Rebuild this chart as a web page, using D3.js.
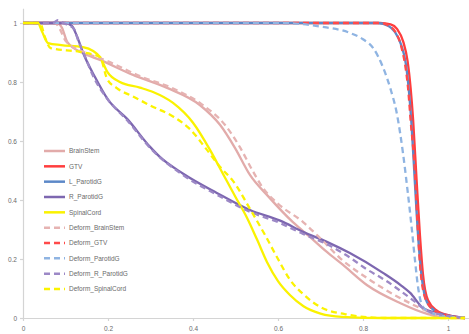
<!DOCTYPE html>
<html><head><meta charset="utf-8">
<script src="https://cdn.jsdelivr.net/npm/d3@7"></script>
<style>body{margin:0;background:#fff}svg{display:block}</style>
</head><body>
<svg id="c" width="469" height="334"></svg>
<script>
const seriesNames = ["BrainStem","GTV","L_ParotidG","R_ParotidG","SpinalCord","Deform_BrainStem","Deform_GTV","Deform_ParotidG","Deform_R_ParotidG","Deform_SpinalCord"];
const seriesColors = ["#e2abaa","#ff3d3d","#5c88c8","#7d67b0","#faf200","#e6b3b2","#ff4a4a","#8fb4e2","#9c88c6","#fbf300"];
const seriesDashed = [false,false,false,false,false,true,true,true,true,true];
const xTicks = [0,0.2,0.4,0.6,0.8,1];
const yTicks = [0,0.2,0.4,0.6,0.8,1];
const xTickLabels = ["0","0.2","0.4","0.6","0.8","1"];
const yTickLabels = ["0","0.2","0.4","0.6","0.8","1"];

// [dose, volume] points per series
const brainStem = [[0,1],[0.08,1],[0.092,0.983],[0.104,0.936],[0.141,0.898],[0.181,0.875],[0.259,0.824],[0.339,0.78],[0.416,0.722],[0.464,0.654],[0.499,0.576],[0.534,0.485],[0.576,0.414],[0.635,0.325],[0.675,0.275],[0.715,0.224],[0.753,0.18],[0.809,0.112],[0.887,0.051],[0.951,0.014],[0.993,0.001],[1.04,0]];
const gtv = [[0,1],[0.84,1],[0.865,0.995],[0.88,0.98],[0.895,0.935],[0.905,0.87],[0.912,0.78],[0.918,0.67],[0.926,0.47],[0.934,0.28],[0.941,0.15],[0.953,0.06],[0.974,0.025],[1.005,0.008],[1.04,0]];
const lParotidG = [[0,1],[0.835,1],[0.86,0.99],[0.875,0.97],[0.89,0.925],[0.901,0.86],[0.908,0.77],[0.914,0.66],[0.922,0.46],[0.93,0.27],[0.938,0.14],[0.95,0.055],[0.972,0.022],[1.005,0.006],[1.04,0]];
const rParotidG = [[0,1],[0.1,1],[0.115,0.99],[0.127,0.955],[0.141,0.9],[0.17,0.815],[0.2,0.74],[0.245,0.675],[0.299,0.58],[0.322,0.546],[0.376,0.49],[0.456,0.424],[0.534,0.366],[0.605,0.33],[0.659,0.292],[0.715,0.258],[0.769,0.22],[0.847,0.153],[0.89,0.11],[0.911,0.085],[0.941,0.034],[0.981,0.015],[1.04,0]];
const spinalCord = [[0,1],[0.035,1],[0.045,0.97],[0.059,0.932],[0.09,0.925],[0.141,0.918],[0.165,0.905],[0.181,0.885],[0.198,0.835],[0.228,0.8],[0.275,0.781],[0.306,0.766],[0.353,0.729],[0.4,0.662],[0.44,0.57],[0.47,0.49],[0.5,0.41],[0.527,0.34],[0.551,0.265],[0.574,0.19],[0.6,0.125],[0.628,0.078],[0.66,0.04],[0.7,0.015],[0.75,0.004],[0.85,0],[1.04,0]];
const deformBrainStem = [[0,1],[0.075,1],[0.088,0.976],[0.1,0.94],[0.146,0.9],[0.2,0.87],[0.275,0.82],[0.35,0.78],[0.42,0.725],[0.475,0.655],[0.51,0.58],[0.54,0.5],[0.565,0.44],[0.598,0.39],[0.659,0.325],[0.699,0.271],[0.746,0.203],[0.809,0.136],[0.887,0.068],[0.958,0.02],[1.0,0.003],[1.04,0]];
const deformGtv = [[0,1],[0.84,1],[0.862,0.99],[0.876,0.97],[0.89,0.92],[0.9,0.85],[0.906,0.78],[0.912,0.671],[0.922,0.5],[0.929,0.3],[0.936,0.15],[0.95,0.055],[0.975,0.02],[1.01,0.005],[1.04,0]];
const deformParotidG = [[0,1],[0.6,1],[0.65,0.997],[0.7,0.988],[0.77,0.966],[0.8,0.945],[0.824,0.915],[0.847,0.85],[0.864,0.78],[0.88,0.69],[0.894,0.56],[0.905,0.43],[0.915,0.3],[0.922,0.2],[0.93,0.1],[0.941,0.037],[0.965,0.015],[1.0,0.005],[1.04,0]];
const deformRParotidG = [[0,1],[0.07,1],[0.082,1.01],[0.095,1],[0.12,0.98],[0.13,0.94],[0.145,0.89],[0.165,0.82],[0.2,0.74],[0.245,0.67],[0.3,0.575],[0.376,0.485],[0.456,0.418],[0.534,0.36],[0.605,0.322],[0.659,0.285],[0.715,0.25],[0.769,0.205],[0.809,0.165],[0.85,0.13],[0.918,0.06],[0.95,0.025],[0.99,0.01],[1.04,0]];
const deformSpinalCord = [[0,1],[0.04,1],[0.052,0.95],[0.065,0.915],[0.134,0.902],[0.181,0.885],[0.198,0.81],[0.22,0.78],[0.26,0.75],[0.3,0.72],[0.353,0.683],[0.393,0.64],[0.43,0.575],[0.465,0.51],[0.494,0.465],[0.534,0.37],[0.57,0.28],[0.6,0.2],[0.628,0.13],[0.66,0.08],[0.7,0.037],[0.77,0.01],[0.85,0],[1.04,0]];

const seriesData = [brainStem,gtv,lParotidG,rParotidG,spinalCord,deformBrainStem,deformGtv,deformParotidG,deformRParotidG,deformSpinalCord];

const svg = d3.select("#c");
const x = d3.scaleLinear().domain([0,1.05]).range([23,469.25]);
const y = d3.scaleLinear().domain([0,1.05]).range([318,8.25]);
const axisColor = "#d4d4d4", textColor = "#6a6a6a";

const gx = svg.append("g").attr("transform","translate(0,318)")
  .call(d3.axisBottom(x).tickValues(xTicks).tickFormat((d,i)=>xTickLabels[i]).tickSize(3).tickSizeOuter(0));
const gy = svg.append("g").attr("transform","translate(23,0)")
  .call(d3.axisLeft(y).tickValues(yTicks).tickFormat((d,i)=>yTickLabels[i]).tickSize(3).tickSizeOuter(0));
[gx,gy].forEach(g=>{
  g.selectAll(".domain,line").attr("stroke",axisColor).attr("stroke-width",1.2);
  g.selectAll("text").attr("fill",textColor).style("font-family","Liberation Sans, Arial, sans-serif").style("font-size","6.5px");
});
gx.selectAll("text").attr("dy","1.1em");

const line = d3.line().x(d=>x(d[0])).y(d=>y(d[1])).curve(d3.curveMonotoneX);
const plot = svg.append("g");
seriesData.forEach((data,i)=>{
  plot.append("path").datum(data).attr("d",line)
    .attr("fill","none").attr("stroke",seriesColors[i])
    .attr("stroke-width",2.3)
    .attr("stroke-dasharray",seriesDashed[i]?"6,4":null)
    .attr("stroke-linecap","butt");
});

// legend
const leg = svg.append("g");
const ly = d3.scalePoint().domain(seriesNames).range([151,289]);
seriesNames.forEach((n,i)=>{
  leg.append("line").attr("x1",44).attr("x2",65).attr("y1",ly(n)).attr("y2",ly(n))
    .attr("stroke",seriesColors[i]).attr("stroke-width",2.5)
    .attr("stroke-dasharray",seriesDashed[i]?"6,4":null);
  leg.append("text").attr("x",69).attr("y",ly(n)).attr("dy","0.35em")
    .attr("fill",textColor).style("font-family","Liberation Sans, Arial, sans-serif").style("font-size","6.5px").text(n);
});
</script>
</body></html>
